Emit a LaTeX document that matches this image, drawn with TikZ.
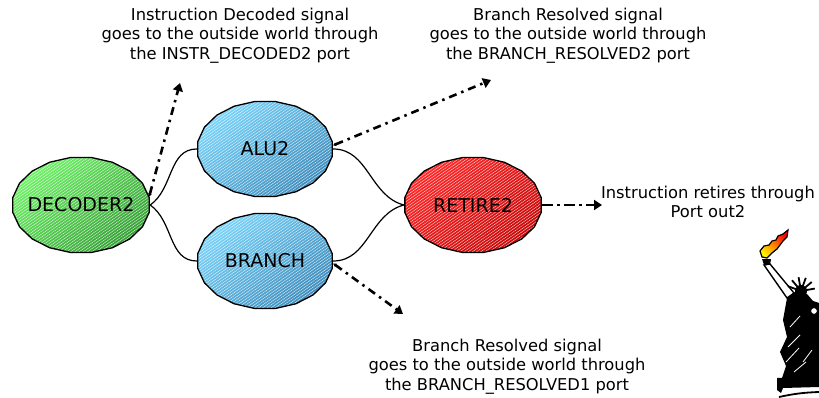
\documentclass[tikz,border=0pt]{standalone}
\usepackage{fontspec}
\setmainfont{DejaVu Sans}
\usetikzlibrary{shapes.geometric,arrows.meta,patterns.meta}

\definecolor{greenhi}{RGB}{112,242,104}
\definecolor{greenlo}{RGB}{52,158,52}
\definecolor{bluehi}{RGB}{122,212,250}
\definecolor{bluelo}{RGB}{62,140,188}
\definecolor{redhi}{RGB}{255,40,40}
\definecolor{redlo}{RGB}{200,8,8}

\tikzset{
  stage/.style={ellipse, minimum width=138pt, minimum height=96pt, inner sep=0pt},
  stagetext/.style={font=\fontsize{19}{22}\selectfont, inner sep=0pt},
  oval/.style 2 args={line width=1.3pt,
    preaction={top color=#1, bottom color=#2, shading angle=40},
    preaction={fill opacity=.18, pattern={Lines[angle=35,distance=2.4pt,line width=.3pt]}, pattern color=white}},
  note/.style={align=center, font=\fontsize{16.3}{19.5}\selectfont, inner sep=0pt, anchor=north},
  link/.style={line width=1.2pt},
  port/.style={line width=2.6pt, dash pattern=on 8pt off 5pt on 2.5pt off 5pt,
    {Latex[length=3pt,width=4pt]}-{Triangle[length=8pt,width=10pt]}},
}

\begin{document}
\begin{tikzpicture}[x=1pt,y=-1pt]
\useasboundingbox (0,0) rectangle (819,398);

% polygonal stage outlines
\draw[oval={greenhi}{greenlo}, shift={(81,205)}]
  (9:69pt and 48pt) \foreach \a in {27,45,...,351}{-- (\a:69pt and 48pt)} -- cycle;
\draw[oval={bluehi}{bluelo}, shift={(265,149)}]
  (9:68pt and 48pt) \foreach \a in {27,45,...,351}{-- (\a:68pt and 48pt)} -- cycle;
\draw[oval={bluehi}{bluelo}, shift={(265,261)}]
  (9:68pt and 48pt) \foreach \a in {27,45,...,351}{-- (\a:68pt and 48pt)} -- cycle;
\draw[oval={redhi}{redlo}, shift={(473,205)}]
  (9:69pt and 48pt) \foreach \a in {27,45,...,351}{-- (\a:69pt and 48pt)} -- cycle;

% stage nodes
\node[stage, minimum width=138pt] (dec) at (81,205) {};
\node[stage, minimum width=136pt] (alu) at (265,149) {};
\node[stage, minimum width=136pt] (br)  at (265,261) {};
\node[stage, minimum width=138pt] (ret) at (473,205) {};
\node[stagetext] at (dec) {DECODER2};
\node[stagetext] at (alu) {ALU2};
\node[stagetext] at (br)  {BRANCH};
\node[stagetext] at (ret) {RETIRE2};

% pipeline links
\draw[link] (dec.east) to[out=35,in=180] (alu.west);
\draw[link] (dec.east) to[out=-35,in=180] (br.west);
\draw[link] (alu.east) to[out=0,in=165] (ret.west);
\draw[link] (br.east)  to[out=0,in=195] (ret.west);

% output ports
\coordinate (pdec) at (180,83);
\coordinate (palu) at (491,80);
\coordinate (pbr)  at (403,314);
\coordinate (pret) at (602,205);
\draw[port] (dec.7) -- (pdec);
\draw[port] (alu.3) -- (palu);
\draw[port] (br.-2) -- (pbr);
\draw[port, -{Triangle[length=8pt,width=10pt]}, dash pattern=on 11pt off 4pt on 3pt off 4pt] (ret.east) -- (pret);

% notes
\node[note] (ndec) at (240,7.6) {Instruction Decoded signal\\goes to the outside world through\\the INSTR\_DECODED2 port};
\node[note] (nalu) at (568,7.6) {Branch Resolved signal\\goes to the outside world through\\the BRANCH\_RESOLVED2 port};
\node[note] (nbr)  at (507,338.6) {Branch Resolved signal\\goes to the outside world through\\the BRANCH\_RESOLVED1 port};
\node[note] (nret) at (708,185.6) {Instruction retires through\\Port out2};

% statue with torch
\draw[line width=1.2pt, left color=red, right color=yellow!90!orange, shading angle=-40]
  (762,257) -- (760,251) -- (764,246) -- (769,245) -- (772,241) -- (776,240) -- (778,236)
  -- (783,234) -- (788,230) -- (787,237) -- (783,241) -- (780,245) -- (777,249) -- (772,253)
  -- (767,258) -- cycle;
\fill (762,259) -- (771,259) -- (770,265) -- (764,265) -- cycle;
\draw[line width=1.4pt, fill=white] (764,265) -- (770,264) -- (794,293) -- (787,298) -- cycle;
\fill (801,291) circle (6pt);
\foreach \s in {10,40,70,100,130,160}
  \draw[line width=1.8pt] (801,291) -- ++(\s:14pt);
\fill (787,298) -- (795,292) -- (807,294) -- (813,301) -- (819,303) -- (819,378)
  -- (782,378) -- (786,366) -- (780,352) -- (787,337) -- (783,320) -- cycle;
\draw[white, line width=.8pt] (788,347) -- (800,335) (786,362) -- (799,348) (790,327) -- (800,316)
  (803,362) -- (812,350) (794,372) -- (806,362);
\draw[line width=1pt, fill=white] (814,311) circle (3.5pt);
\fill (777,378) -- (819,376) -- (819,387) -- (783,388) -- (781,393) -- (777,390) -- cycle;
\draw[line width=1.8pt] (779,397) to[bend left=5] (819,392);
\end{tikzpicture}
\end{document}
